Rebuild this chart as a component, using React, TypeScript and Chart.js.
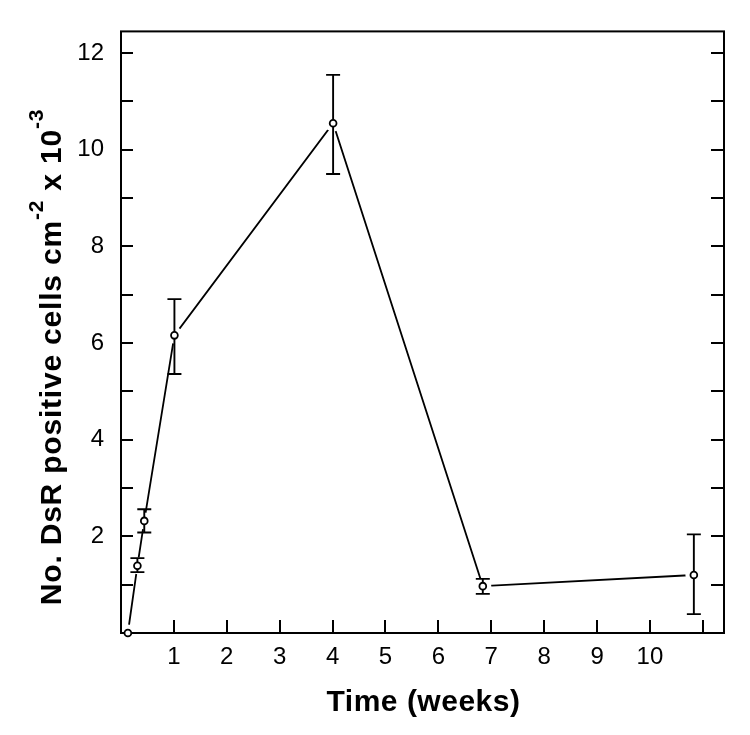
import React, { useEffect, useRef } from "react";
import { Chart, registerables } from "chart.js";

Chart.register(...registerables);

// Data
const weeks = [0.13, 0.31, 0.44, 1.01, 4.01, 6.84, 10.83];
const cells = [0, 1.39, 2.32, 6.16, 10.55, 0.97, 1.2];
const errUpper = [0, 1.55, 2.56, 6.91, 11.55, 1.12, 2.04];
const errLower = [0, 1.26, 2.08, 5.36, 9.5, 0.81, 0.39];

const xTickValues = [1, 2, 3, 4, 5, 6, 7, 8, 9, 10, 11];
const xLabelValues = [1, 2, 3, 4, 5, 6, 7, 8, 9, 10];
const yTickValues = [1, 2, 3, 4, 5, 6, 7, 8, 9, 10, 11, 12];
const yLabelValues = [2, 4, 6, 8, 10, 12];

const xTitle = "Time (weeks)";
const yTitleParts = [
  { text: "No. DsR positive cells cm", sup: false },
  { text: "-2", sup: true },
  { text: " x 10", sup: false },
  { text: "-3", sup: true },
];

const FONT = "'Liberation Sans', Arial, Helvetica, sans-serif";

const decorPlugin = {
  id: "decor",
  afterDatasetsDraw(chart: any) {
    const { ctx, chartArea: a, scales } = chart;
    const x = scales.x;
    const y = scales.y;
    ctx.save();
    // white halos around markers (line gap)
    ctx.fillStyle = "#fff";
    weeks.forEach((w, i) => {
      const px = x.getPixelForValue(w);
      const py = y.getPixelForValue(cells[i]);
      ctx.beginPath();
      ctx.arc(px, py, 8.5, 0, Math.PI * 2);
      ctx.fill();
    });
    // frame
    ctx.strokeStyle = "#000";
    ctx.lineWidth = 2;
    ctx.strokeRect(a.left, a.top, a.right - a.left, a.bottom - a.top);
    // inward ticks
    ctx.beginPath();
    yTickValues.forEach((v) => {
      const py = Math.round(y.getPixelForValue(v));
      ctx.moveTo(a.left, py);
      ctx.lineTo(a.left + 12, py);
      ctx.moveTo(a.right, py);
      ctx.lineTo(a.right - 13, py);
    });
    xTickValues.forEach((v) => {
      const px = Math.round(x.getPixelForValue(v));
      ctx.moveTo(px, a.bottom);
      ctx.lineTo(px, a.bottom - 13);
    });
    ctx.stroke();
    // error bars
    ctx.lineWidth = 1.9;
    weeks.forEach((w, i) => {
      if (errUpper[i] === errLower[i]) return;
      const px = x.getPixelForValue(w);
      const pu = y.getPixelForValue(errUpper[i]);
      const pl = y.getPixelForValue(errLower[i]);
      ctx.beginPath();
      ctx.moveTo(px, pu);
      ctx.lineTo(px, pl);
      ctx.moveTo(px - 7, pu);
      ctx.lineTo(px + 7, pu);
      ctx.moveTo(px - 7, pl);
      ctx.lineTo(px + 7, pl);
      ctx.stroke();
    });
    // markers
    ctx.lineWidth = 1.8;
    weeks.forEach((w, i) => {
      const px = x.getPixelForValue(w);
      const py = y.getPixelForValue(cells[i]);
      ctx.beginPath();
      ctx.arc(px, py, 3.4, 0, Math.PI * 2);
      ctx.fillStyle = "#fff";
      ctx.fill();
      ctx.stroke();
    });
    ctx.restore();
  },
  afterDraw(chart: any) {
    const { ctx, chartArea: a } = chart;
    ctx.save();
    ctx.fillStyle = "#000";
    // x title
    ctx.font = `bold 30px ${FONT}`;
    (ctx as any).letterSpacing = "0.5px";
    ctx.textAlign = "center";
    ctx.textBaseline = "alphabetic";
    ctx.fillText(xTitle, (a.left + a.right) / 2 + 1, 711);
    // y title with superscripts
    const mainFont = `bold 30px ${FONT}`;
    const supFont = `bold 21px ${FONT}`;
    (ctx as any).letterSpacing = "0.8px";
    ctx.textAlign = "left";
    let total = 0;
    const widths = yTitleParts.map((p) => {
      ctx.font = p.sup ? supFont : mainFont;
      const w = ctx.measureText(p.text).width;
      total += w;
      return w;
    });
    ctx.translate(61, 357);
    ctx.rotate(-Math.PI / 2);
    let cx = -total / 2;
    yTitleParts.forEach((p, i) => {
      ctx.font = p.sup ? supFont : mainFont;
      ctx.fillText(p.text, cx, p.sup ? -18 : 0);
      cx += widths[i];
    });
    ctx.restore();
  },
};

export default function App() {
  const ref = useRef<HTMLCanvasElement | null>(null);
  useEffect(() => {
    if (!ref.current) return;
    const chart = new Chart(ref.current, {
      type: "line",
      data: {
        datasets: [
          {
            data: weeks.map((w, i) => ({ x: w, y: cells[i] })),
            borderColor: "#000",
            borderWidth: 1.8,
            pointRadius: 0,
            tension: 0,
            fill: false,
            clip: false as any,
          },
        ],
      },
      options: {
        responsive: false,
        animation: false,
        devicePixelRatio: 1,
        layout: { padding: { top: 30, right: 26, left: 0, bottom: 0 } },
        plugins: { legend: { display: false }, tooltip: { enabled: false } },
        scales: {
          x: {
            type: "linear",
            min: 0,
            max: 11.4,
            grid: { display: false, drawTicks: false },
            border: { display: false },
            afterFit: (s: any) => {
              s.height = 102;
            },
            ticks: {
              stepSize: 1,
              includeBounds: false,
              autoSkip: false,
              maxRotation: 0,
              padding: 10,
              color: "#000",
              font: { family: FONT, size: 24 },
              callback: (v: any) => (xLabelValues.includes(Number(v)) ? String(v) : ""),
            },
          },
          y: {
            type: "linear",
            min: 0,
            max: 12.45,
            grid: { display: false, drawTicks: false },
            border: { display: false },
            afterFit: (s: any) => {
              s.width = 121;
            },
            ticks: {
              stepSize: 1,
              includeBounds: false,
              autoSkip: false,
              padding: 17,
              color: "#000",
              font: { family: FONT, size: 24 },
              callback: (v: any) => (yLabelValues.includes(Number(v)) ? String(v) : ""),
            },
          },
        },
      },
      plugins: [decorPlugin],
    });
    return () => chart.destroy();
  }, []);
  return (
    <div style={{ position: "absolute", left: 0, top: 0, width: 750, height: 735, background: "#fff" }}>
      <canvas ref={ref} width={750} height={735} />
    </div>
  );
}
